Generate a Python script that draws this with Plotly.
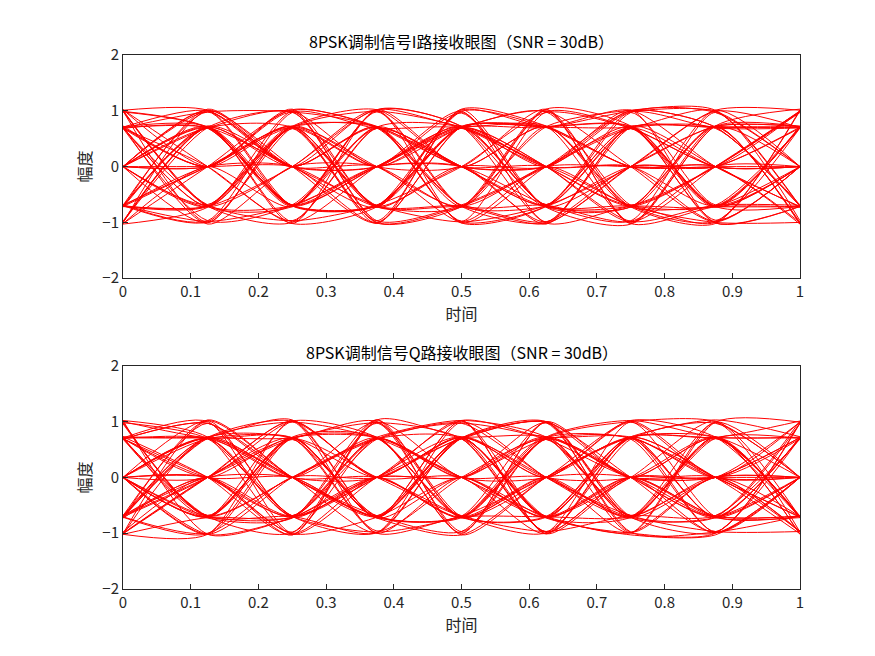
import numpy as np
import plotly.graph_objects as go

# 8PSK symbol phase indices (k -> angle k*45deg) sampled at each symbol instant
t_samples = [0, 0.125, 0.25, 0.375, 0.5, 0.625, 0.75, 0.875, 1.0]
phase_traces = [
    "034712560", "215670341", "460123574", "712345607", "351726043",
    "527403162", "146250737", "603571224", "270316455", "482157306",
    "035624711", "657021348", "124763052", "760432815", "312507664",
    "543216077", "006745132", "271354620", "465073211", "730162544",
    "154320766", "627451003", "341076257", "586213470", "013572646",
    "702645131", "236017455", "475301622", "561734208", "120456773",
    "847362015", "305148726", "662530417", "418275360", "793014552",
    "251603746", "614027353", "073512468", "326471105", "457260314",
    "180735462", "532046171", "745123006", "069354217", "213675540",
    "376204151", "602417735", "415032667", "720564123", "548716320",
    "131250474", "267403516", "394617002", "053726145", "686142537",
    "472035661", "715263404", "024571736", "357610242", "641307025",
]
# small per-trace amplitude deviations (receiver noise at 30 dB)
amp_dev = [1.00, 0.98, 1.02, 0.99, 1.01, 0.97, 1.03, 1.00, 0.98, 1.01,
           0.99, 1.02, 0.97, 1.00, 1.03, 0.98, 1.01, 0.99, 1.02, 1.00,
           0.97, 1.01, 0.99, 1.03, 0.98, 1.00, 1.02, 0.99, 1.01, 0.97,
           1.00, 0.98, 1.02, 0.99, 1.01, 0.96, 1.02, 0.99, 1.00, 1.03,
           0.98, 1.01, 0.97, 1.02, 1.00, 0.99, 1.01, 0.98, 1.03, 0.97,
           1.00, 1.02, 0.99, 1.01, 0.98, 1.00, 0.97, 1.02, 0.99, 1.01]

titles = ["8PSK调制信号I路接收眼图（SNR = 30dB）", "8PSK调制信号Q路接收眼图（SNR = 30dB）"]
font = "Noto Sans CJK SC, Arial"

fig = go.Figure()
for row, comp in enumerate([np.cos, np.sin]):
    xa = "x" if row == 0 else "x2"
    ya = "y" if row == 0 else "y2"
    for seq, a in zip(phase_traces, amp_dev):
        k = np.array([int(c) % 8 for c in seq])
        y = a * comp(k * np.pi / 4)
        fig.add_trace(go.Scatter(x=t_samples, y=y, mode="lines", xaxis=xa, yaxis=ya,
                                 line=dict(color="red", width=1, shape="spline", smoothing=0.7),
                                 showlegend=False, hoverinfo="skip"))

ax = dict(range=[0, 1], tickvals=[i / 10 for i in range(11)], ticktext=["0"] + [f"{i/10:g}" for i in range(1, 10)] + ["1"],
          showgrid=False, zeroline=False, showline=True, mirror=True, linecolor="#262626", linewidth=1,
          ticks="inside", ticklen=5, tickcolor="#262626", tickfont=dict(size=15, color="#262626"),
          title=dict(text="时间", font=dict(size=16, color="#262626"), standoff=4), automargin=False)
ay = dict(range=[-2, 2], tickvals=[-2, -1, 0, 1, 2], showgrid=False, zeroline=False, showline=True, mirror=True,
          linecolor="#262626", linewidth=1, ticks="inside", ticklen=5, tickcolor="#262626",
          tickfont=dict(size=15, color="#262626"),
          title=dict(text="幅度", font=dict(size=16, color="#262626"), standoff=6), automargin=False)

fig.update_layout(
    width=875, height=656, plot_bgcolor="white", paper_bgcolor="white",
    font=dict(family=font),
    margin=dict(l=115, r=83, t=47, b=75, autoexpand=False),
    xaxis=dict(ax, domain=[0, 1], anchor="y"),
    yaxis=dict(ay, domain=[0.582, 1], anchor="x"),
    xaxis2=dict(ax, domain=[0, 1], anchor="y2"),
    yaxis2=dict(ay, domain=[0, 0.418], anchor="x2"),
    annotations=[
        dict(text=titles[0], x=0.5, y=1, xref="paper", yref="paper", yanchor="bottom", showarrow=False,
             font=dict(size=16, color="black")),
        dict(text=titles[1], x=0.5, y=0.418, xref="paper", yref="paper", yanchor="bottom", showarrow=False,
             font=dict(size=16, color="black")),
    ],
)
fig.write_html("out.html")
